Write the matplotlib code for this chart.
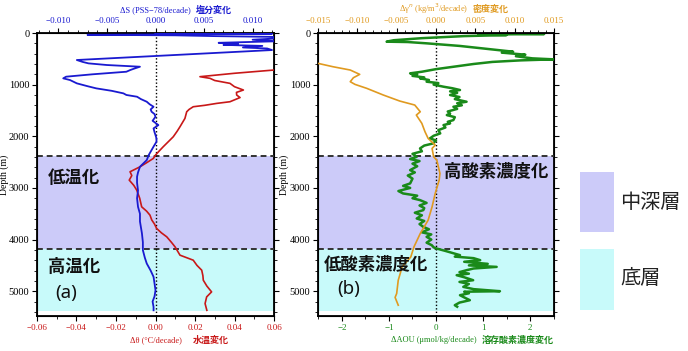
import matplotlib
matplotlib.use("Agg")
import matplotlib.pyplot as plt
from matplotlib.ticker import MultipleLocator, FuncFormatter
from matplotlib.patches import Rectangle

# ---------------- data ----------------
sal_depth = [0, 8, 15, 25, 35, 45, 60, 75, 100, 130, 160, 190, 210, 230, 250, 280, 300, 330,
             523, 560, 588, 620, 653, 690, 717, 750, 800, 846, 878, 911, 975, 1030, 1072, 1120,
             1169, 1200, 1234, 1280, 1331, 1380, 1428, 1480, 1525, 1570, 1622, 1700, 1783, 1847,
             1920, 1977, 2040, 2106, 2200, 2364, 2461, 2590, 2700, 2784, 2900, 3050, 3200, 3366,
             3500, 3650, 3876, 4050, 4205, 4350, 4464, 4600, 4722, 4850, 4980, 5100, 5200, 5304, 5370]
sal_val = [0.000, 0.004, 0.012, 0.003, -0.007, 0.002, 0.006, 0.012, 0.013, 0.010, 0.0125, 0.0065,
           0.0085, 0.007, 0.011, 0.009, 0.0115, 0.012,
           -0.0081, -0.0075, -0.0069, -0.0050, -0.0016, -0.0022, -0.0026, -0.0030, -0.0065, -0.0092,
           -0.0095, -0.0088, -0.0081, -0.0070, -0.0061, -0.0045, -0.0033, -0.0030, -0.0019, -0.0015,
           -0.0009, -0.0006, -0.0002, -0.0005, -0.0004, -0.0001, 0.0000, -0.0003, 0.0003, -0.0002,
           -0.0001, 0.0000, 0.0001, 0.0001, -0.0002, -0.0007, -0.0009, -0.0016, -0.0018, -0.0019,
           -0.0019, -0.0018, -0.0019, -0.0018, -0.0016, -0.0016, -0.0014, -0.0013, -0.0013, -0.0011,
           -0.0009, -0.0005, -0.0002, -0.0001, 0.0000, -0.0001, -0.0003, -0.0002, -0.0002]

temp_depth = [717, 780, 846, 878, 920, 975, 1040, 1104, 1150, 1201, 1250, 1331, 1363, 1400, 1428,
              1480, 1525, 1654, 1815, 1900, 2009, 2074, 2203, 2300, 2364, 2429, 2500, 2590, 2687,
              2760, 2849, 2950, 3043, 3200, 3366, 3450, 3527, 3620, 3700, 3786, 3870, 3947, 4050,
              4141, 4302, 4399, 4500, 4593, 4700, 4787, 4900, 5013, 5110, 5239, 5370]
temp_val = [0.060, 0.040, 0.0225, 0.0276, 0.030, 0.0377, 0.040, 0.0445, 0.041, 0.0411, 0.0428,
            0.0377, 0.031, 0.025, 0.0191, 0.017, 0.0158, 0.0149, 0.0124, 0.011, 0.009, 0.0073,
            0.0039, 0.0015, 0.0, -0.0011, -0.004, -0.0078, -0.0129, -0.012, -0.0133, -0.011,
            -0.0095, -0.008, -0.007, -0.0045, -0.0028, -0.0019, -0.0005, 0.0006, 0.003, 0.0057,
            0.008, 0.0099, 0.0124, 0.0191, 0.021, 0.0234, 0.024, 0.0242, 0.026, 0.0284, 0.0259,
            0.0251, 0.026]

dens_depth = [588, 653, 717, 801, 866, 943, 995, 1072, 1201, 1318, 1395, 1525, 1589, 1750, 1912,
              2041, 2170, 2235, 2397, 2461, 2719, 2849, 3107, 3366, 3624, 3882, 4141, 4335, 4529,
              4787, 5045, 5120, 5271]
dens_val = [-0.0150, -0.0131, -0.0109, -0.0097, -0.0105, -0.0109, -0.0103, -0.0088, -0.0067,
            -0.0046, -0.0027, -0.0020, -0.0025, -0.0018, -0.0014, -0.0010, -0.0001, -0.0005,
            -0.0003, 0.0001, 0.0005, 0.0004, -0.0001, -0.0005, -0.0010, -0.0020, -0.0028,
            -0.0032, -0.0043, -0.0048, -0.0050, -0.0052, -0.0048]

aou_depth = [0, 10, 20, 30, 40, 60, 100, 140, 168, 175, 200, 250, 300, 330, 362, 380, 420, 450,
             491, 510, 530, 560, 600, 650, 700, 750, 781, 800, 830, 860, 878, 910, 943, 970, 1000,
             1040, 1070, 1104, 1130, 1160, 1201, 1240, 1280, 1331, 1360, 1400, 1428, 1470, 1520,
             1560, 1589, 1630, 1686, 1720, 1750, 1783, 1830, 1880, 1944, 1990, 2041, 2080, 2138,
             2180, 2235, 2290, 2340, 2397, 2440, 2480, 2530, 2580, 2655, 2700, 2760, 2820, 2913,
             2960, 3000, 3060, 3107, 3150, 3200, 3236, 3290, 3340, 3390, 3430, 3480, 3530, 3592,
             3640, 3700, 3754, 3800, 3860, 3900, 3947, 4000, 4060, 4109, 4150, 4173, 4220, 4260,
             4302, 4330, 4360, 4399, 4430, 4470, 4500, 4529, 4560, 4593, 4630, 4660, 4690, 4730,
             4787, 4820, 4860, 4916, 4960, 5000, 5010, 5040, 5077, 5120, 5174, 5220, 5271, 5300]
aou_val = [2.0, 1.2, 2.3, 0.9, 1.5, 0.6, -0.3, -0.9, -1.05, -0.6, -0.2, 0.5, 1.0, 1.3, 1.64, 1.4,
           1.9, 1.7, 2.05, 2.5, 1.8, 1.2, 0.8, 0.4, 0.0, -0.3, -0.55, -0.4, -0.5, -0.25, -0.34,
           -0.15, -0.2, 0.05, -0.05, 0.16, 0.35, 0.51, 0.3, 0.45, 0.3, 0.5, 0.4, 0.65, 0.45, 0.55,
           0.37, 0.45, 0.25, 0.3, 0.23, 0.4, 0.37, 0.25, 0.3, 0.16, 0.2, 0.05, 0.09, -0.05, -0.13,
           0.0, -0.06, -0.25, -0.34, -0.3, -0.5, -0.41, -0.55, -0.35, -0.5, -0.4, -0.55, -0.45,
           -0.6, -0.5, -0.55, -0.7, -0.55, -0.8, -0.7, -0.4, -0.5, -0.34, -0.2, -0.35, -0.25,
           -0.27, -0.45, -0.3, -0.41, -0.25, -0.35, -0.27, -0.15, -0.3, -0.1, -0.2, -0.1, -0.2,
           -0.09, -0.05, 0.01, 0.2, 0.35, 0.51, 0.4, 0.8, 0.94, 0.6, 1.1, 0.7, 1.29, 0.8, 0.65,
           0.5, 0.7, 0.44, 0.6, 0.79, 0.5, 0.7, 0.58, 0.8, 1.36, 0.6, 0.7, 0.51, 0.6, 0.72, 0.5,
           0.4, 0.45]

mid_layer = (2380, 4180)
bottom_layer = (4180, 5380)

# ---------------- style ----------------
SERIF = "Liberation Serif"
CJK = "Noto Sans CJK JP"
BLUE = "#1a1ad0"
RED = "#c81818"
GREEN = "#1a8a1a"
ORANGE = "#e09a20"
PURPLE_FILL = "#cccbf9"
CYAN_FILL = "#c8fafa"

fig = plt.figure(figsize=(6.88, 3.51), dpi=100)
W, H = 688.0, 351.0


def fmt_minus(dec):
    def f(v, pos):
        s = f"{v:.{dec}f}"
        if abs(v) < 1e-12:
            s = f"{0:.{dec}f}"
        return s.replace("-", "\u2212")
    return FuncFormatter(f)


def setup_depth(ax, label_x):
    ax.set_ylim(5480, 0)
    ax.yaxis.set_major_locator(MultipleLocator(1000))
    ax.yaxis.set_minor_locator(MultipleLocator(200))
    ax.set_ylabel("Depth (m)", fontfamily=SERIF, fontsize=7)
    ax.yaxis.set_label_coords(label_x, 0.5)
    for lab in ax.get_yticklabels():
        lab.set_fontfamily(SERIF)
    ax.tick_params(axis="y", which="both", right=True, direction="out", labelsize=7.5, pad=2)
    ax.tick_params(axis="y", which="major", length=3.5)
    ax.tick_params(axis="y", which="minor", length=2)
    ax.axhspan(*mid_layer, color=PURPLE_FILL, zorder=0, lw=0)
    ax.axhspan(*bottom_layer, color=CYAN_FILL, zorder=0, lw=0)
    for d in (mid_layer[0], mid_layer[1]):
        ax.axhline(d, color="#333333", lw=1.4, ls=(0, (3, 2)), zorder=3)
    ax.axvline(0, color="black", lw=1.0, ls=(0, (1, 1.5)), zorder=3)
    for sp in ax.spines.values():
        sp.set_linewidth(1.3)


def style_x(ax, color, major, minor, dec, lim):
    ax.set_xlim(*lim)
    ax.xaxis.set_major_locator(MultipleLocator(major))
    ax.xaxis.set_minor_locator(MultipleLocator(minor))
    ax.xaxis.set_major_formatter(fmt_minus(dec))
    ax.tick_params(axis="x", which="both", direction="out", labelsize=6.5, labelcolor=color, pad=2)
    ax.tick_params(axis="x", which="major", length=3.5)
    ax.tick_params(axis="x", which="minor", length=2)
    for lab in ax.get_xticklabels():
        lab.set_fontfamily(SERIF)


# ---------------- panel (a) ----------------
axa = fig.add_axes([37 / W, 35 / H, 237 / W, 283 / H])
setup_depth(axa, (9 - 37) / 237)
style_x(axa, RED, 0.02, 0.01, 2, (-0.06, 0.06))
axa.plot(temp_val, temp_depth, color=RED, lw=1.2, zorder=4, clip_on=True)

axa_t = axa.twiny()
style_x(axa_t, BLUE, 0.005, 0.001, 3, (-0.0122, 0.0122))
axa_t.plot(sal_val, sal_depth, color=BLUE, lw=1.3, zorder=4)
axa_t.set_ylim(5480, 0)

# ---------------- panel (b) ----------------
axb = fig.add_axes([318 / W, 35 / H, 236 / W, 283 / H])
setup_depth(axb, (289 - 318) / 236)
style_x(axb, GREEN, 1, 0.5, 0, (-2.51, 2.51))
axb.xaxis.set_major_formatter(FuncFormatter(lambda v, p: f"{int(round(v))}".replace("-", "\u2212")))
axb.plot(aou_val, aou_depth, color=GREEN, lw=1.8, zorder=4)

axb_t = axb.twiny()
style_x(axb_t, ORANGE, 0.005, 0.001, 3, (-0.015, 0.015))
axb_t.plot(dens_val, dens_depth, color=ORANGE, lw=1.2, zorder=4)
axb_t.set_ylim(5480, 0)

# ---------------- axis titles (figure text, pixel placed) ----------------
def ftext(x, y, s, **kw):
    fig.text(x / W, 1 - y / H, s, **kw)

ftext(191, 10, "\u0394S (PSS\u221278/decade)", ha="right", va="center",
      fontfamily=SERIF, fontsize=6, color=BLUE)
ftext(196, 10, "塩分変化", ha="left", va="center", fontfamily=CJK,
      fontweight="bold", fontsize=6.5, color=BLUE)

ftext(182, 340, "\u0394\u03b8 (\u00b0C/decade)", ha="right", va="center",
      fontfamily=SERIF, fontsize=6, color=RED)
ftext(193, 340, "水温変化", ha="left", va="center", fontfamily=CJK,
      fontweight="bold", fontsize=6.5, color=RED)

ftext(468, 9, "\u0394\u03b3$^{n}$ (kg/m$^{3}$/decade)", ha="right", va="center",
      fontfamily=SERIF, fontsize=6, color=ORANGE)
ftext(473, 9, "密度変化", ha="left", va="center", fontfamily=CJK,
      fontweight="bold", fontsize=6.5, color=ORANGE)

ftext(477, 340, "\u0394AOU (\u03bcmol/kg/decade)", ha="right", va="center",
      fontfamily=SERIF, fontsize=6, color=GREEN)
ftext(482, 340, "溶存酸素濃度変化", ha="left", va="center", fontfamily=CJK,
      fontweight="bold", fontsize=6.5, color=GREEN)

# ---------------- in-panel labels ----------------
ftext(48, 178, "低温化", ha="left", va="center", fontfamily=CJK, fontweight="bold",
      fontsize=12.5, color="#111111")
ftext(48, 267, "高温化", ha="left", va="center", fontfamily=CJK, fontweight="bold",
      fontsize=12.5, color="#111111")
ftext(55, 293, "(a)", ha="left", va="center", fontfamily="Noto Sans",
      fontsize=13.5, color="#111111")

ftext(444, 172, "高酸素濃度化", ha="left", va="center", fontfamily=CJK, fontweight="bold",
      fontsize=12.5, color="#111111")
ftext(324, 265, "低酸素濃度化", ha="left", va="center", fontfamily=CJK, fontweight="bold",
      fontsize=12.5, color="#111111")
ftext(337, 289, "(b)", ha="left", va="center", fontfamily="Noto Sans",
      fontsize=13.5, color="#111111")

# ---------------- legend on the right ----------------
fig.patches.append(Rectangle((580 / W, 1 - 232 / H), 34 / W, 60 / H, transform=fig.transFigure,
                             facecolor=PURPLE_FILL, edgecolor="none"))
fig.patches.append(Rectangle((580 / W, 1 - 310 / H), 34 / W, 61 / H, transform=fig.transFigure,
                             facecolor=CYAN_FILL, edgecolor="none"))
ftext(620, 203, "中深層", ha="left", va="center", fontfamily=CJK, fontsize=14.5, color="#222222")
ftext(620, 278, "底層", ha="left", va="center", fontfamily=CJK, fontsize=14.5, color="#222222")

fig.savefig("out.png", dpi=100)
